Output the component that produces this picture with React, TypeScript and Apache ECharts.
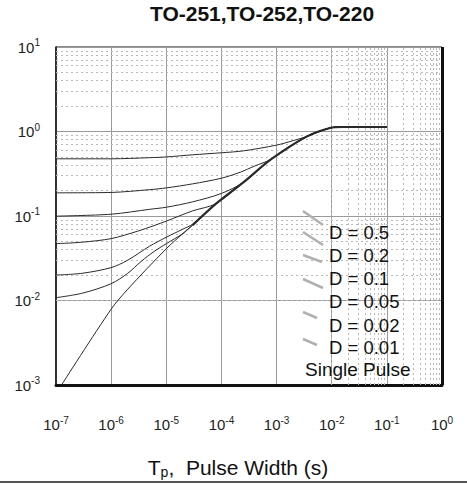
import React, { useEffect, useRef } from "react";
import * as echarts from "echarts";

// Axis ranges (log scale)
const xRange = [1e-7, 1];
const yRange = [1e-3, 10];

// Curves: [pulse width (s), normalized transient thermal impedance]
const singlePulse = [
  [1.26e-7, 0.001], [1e-6, 0.0079], [2e-6, 0.0136], [1e-5, 0.041], [2e-5, 0.062],
  [3e-5, 0.078], [8e-5, 0.14], [2.5e-4, 0.25], [8e-4, 0.47], [3.5e-3, 0.87],
  [9.3e-3, 1.1], [1.6e-2, 1.13], [1e-1, 1.13],
];
const d05 = [
  [1e-7, 0.475], [1e-6, 0.475], [5e-6, 0.49], [1e-5, 0.5], [3e-5, 0.53], [1e-4, 0.56],
  [2.5e-4, 0.59], [1e-3, 0.69], [2e-3, 0.78], [3.5e-3, 0.87], [9.3e-3, 1.1],
  [1.6e-2, 1.13], [1e-1, 1.13],
];
const d02 = [
  [1e-7, 0.188], [1e-6, 0.19], [5e-6, 0.205], [1e-5, 0.215], [3e-5, 0.24], [1e-4, 0.28],
  [2.2e-4, 0.33], [4e-4, 0.39], [8e-4, 0.47], [3.5e-3, 0.87], [9.3e-3, 1.1],
  [1.6e-2, 1.13], [1e-1, 1.13],
];
const d01 = [
  [1e-7, 0.0996], [1e-6, 0.105], [5e-6, 0.12], [1e-5, 0.127], [3e-5, 0.147], [1e-4, 0.185],
  [2.5e-4, 0.25], [8e-4, 0.47], [3.5e-3, 0.87], [9.3e-3, 1.1], [1.6e-2, 1.13], [1e-1, 1.13],
];
const d005 = [
  [1e-7, 0.047], [3e-7, 0.049], [1e-6, 0.054], [3e-6, 0.066], [6e-6, 0.077], [1e-5, 0.087],
  [3e-5, 0.115], [8e-5, 0.14], [2.5e-4, 0.25], [8e-4, 0.47], [3.5e-3, 0.87], [9.3e-3, 1.1],
  [1.6e-2, 1.13], [1e-1, 1.13],
];
const d002 = [
  [1e-7, 0.02], [3e-7, 0.021], [1e-6, 0.0245], [2e-6, 0.03], [5e-6, 0.044], [1e-5, 0.056],
  [2e-5, 0.07], [3e-5, 0.08], [8e-5, 0.14], [2.5e-4, 0.25], [8e-4, 0.47], [3.5e-3, 0.87],
  [9.3e-3, 1.1], [1.6e-2, 1.13], [1e-1, 1.13],
];
const d001 = [
  [1e-7, 0.0108], [3e-7, 0.0122], [1e-6, 0.0158], [2e-6, 0.021], [3.5e-6, 0.029],
  [6e-6, 0.038], [1e-5, 0.047], [2e-5, 0.062], [3e-5, 0.078], [8e-5, 0.14], [2.5e-4, 0.25],
  [8e-4, 0.47], [3.5e-3, 0.87], [9.3e-3, 1.1], [1.6e-2, 1.13], [1e-1, 1.13],
];

const legendLabels = ["D = 0.5", "D = 0.2", "D = 0.1", "D = 0.05", "D = 0.02", "D = 0.01"];
const singleLabel = "Single Pulse";
const titleText = "TO-251,TO-252,TO-220";

// minor grid positions (2..9 within each decade)
const minorMultipliers = [2, 3, 4, 5, 6, 7, 8, 9];
const xDecades = [-7, -6, -5, -4, -3, -2, -1];
const yDecades = [-3, -2, -1, 0];

const FONT = "'Liberation Sans', Arial, sans-serif";

function powLabel(v: number) {
  const e = Math.round(Math.log10(v));
  return `{b|10}{s|${e}}`;
}

const labelRich = {
  b: { fontSize: 15, fontFamily: FONT, color: "#222", lineHeight: 19 },
  s: { fontSize: 10, fontFamily: FONT, color: "#222", lineHeight: 14, verticalAlign: "top" },
};

export default function App() {
  const ref = useRef<HTMLDivElement>(null);

  useEffect(() => {
    if (!ref.current) return;
    const chart = echarts.init(ref.current, undefined, { renderer: "svg" });

    const xMinor: any[] = [];
    xDecades.forEach((d) =>
      minorMultipliers.forEach((m) => xMinor.push({ xAxis: m * Math.pow(10, d) }))
    );
    const yMinor: any[] = [];
    yDecades.forEach((d) =>
      minorMultipliers.forEach((m) => yMinor.push({ yAxis: m * Math.pow(10, d) }))
    );

    const curveStyle = { color: "#2a2a2a", width: 1 };
    const mkCurve = (name: string, data: number[][], width = 1) => ({
      name,
      type: "line",
      data,
      smooth: 0.3,
      showSymbol: false,
      symbol: "none",
      lineStyle: { ...curveStyle, width },
      itemStyle: { color: "#2a2a2a" },
      z: 5,
    });

    const dashes = [
      [303, 211, 323, 225],
      [303, 232, 323, 245],
      [303, 255, 322, 262],
      [303, 279, 323, 288],
      [303, 312, 317, 318],
      [303, 339, 317, 345],
    ];
    const textYs = [232, 255, 278, 301.5, 325, 347];

    const graphic: any[] = [];
    dashes.forEach((d) =>
      graphic.push({
        type: "line",
        shape: { x1: d[0], y1: d[1], x2: d[2], y2: d[3] },
        style: { stroke: "#b0b0b0", lineWidth: 2.5 },
        z: 20,
      })
    );
    legendLabels.forEach((t, i) =>
      graphic.push({
        type: "text",
        x: 329,
        y: textYs[i],
        style: {
          text: t,
          font: `18.5px ${FONT}`,
          fill: "#111",
          textVerticalAlign: "middle",
          verticalAlign: "middle",
        },
        z: 20,
      })
    );
    graphic.push({
      type: "text",
      x: 305,
      y: 369,
      style: {
        text: singleLabel,
        font: `19px ${FONT}`,
        fill: "#111",
        textVerticalAlign: "middle",
        verticalAlign: "middle",
      },
      z: 20,
    });
    graphic.push({
      type: "rect",
      shape: { x: 0, y: 481, width: 467, height: 2 },
      style: { fill: "#555" },
      z: 20,
    });

    chart.setOption({
      animation: false,
      backgroundColor: "#fff",
      title: {
        text: titleText,
        left: 262,
        top: 3,
        textAlign: "center",
        padding: 0,
        textStyle: { fontFamily: FONT, fontWeight: "bold", fontSize: 21, color: "#111" },
      },
      grid: {
        left: 56,
        right: 25,
        top: 47,
        bottom: 98,
        show: true,
        borderColor: "#111",
        borderWidth: 1,
        backgroundColor: "transparent",
      },
      xAxis: {
        type: "log",
        logBase: 10,
        min: xRange[0],
        max: xRange[1],
        axisLine: { show: true, lineStyle: { color: "#111", width: 3 } },
        axisTick: { show: false },
        splitLine: { show: true, lineStyle: { color: "#9a9a9a", width: 1 } },
        axisLabel: {
          margin: 30,
          formatter: powLabel,
          rich: labelRich,
        },
        name: "{a|T}{p|p}{a|,  Pulse Width (s)}",
        nameLocation: "middle",
        nameGap: 70,
        nameTextStyle: {
          padding: [0, 22, 0, 0],
          rich: {
            a: { fontSize: 21, fontFamily: FONT, color: "#111", lineHeight: 24 },
            p: { fontSize: 14, fontFamily: FONT, color: "#111", lineHeight: 16, verticalAlign: "bottom" },
          },
        },
      },
      yAxis: {
        type: "log",
        logBase: 10,
        min: yRange[0],
        max: yRange[1],
        axisLine: { show: true, lineStyle: { color: "#111", width: 1.5 } },
        axisTick: { show: false },
        splitLine: { show: true, lineStyle: { color: "#9a9a9a", width: 1 } },
        axisLabel: {
          margin: 16,
          formatter: powLabel,
          rich: labelRich,
        },
      },
      series: [
        {
          name: "grid-minor",
          type: "line",
          data: [[xRange[0], yRange[0]]],
          showSymbol: false,
          symbol: "none",
          lineStyle: { width: 0 },
          silent: true,
          z: 1,
          markLine: {
            silent: true,
            symbol: "none",
            animation: false,
            label: { show: false },
            lineStyle: { color: "#b8b8b8", type: [2, 3], width: 1 },
            data: [...xMinor, ...yMinor],
          },
        },
        {
          name: "frame-right",
          type: "line",
          data: [[xRange[1], yRange[1]]],
          showSymbol: false,
          symbol: "none",
          lineStyle: { width: 0 },
          silent: true,
          z: 6,
          markLine: {
            silent: true,
            symbol: "none",
            animation: false,
            label: { show: false },
            lineStyle: { color: "#111", type: "solid", width: 3 },
            data: [{ xAxis: xRange[1] }],
          },
        },
        mkCurve("D = 0.5", d05),
        mkCurve("D = 0.2", d02),
        mkCurve("D = 0.1", d01),
        mkCurve("D = 0.05", d005),
        mkCurve("D = 0.02", d002),
        mkCurve("D = 0.01", d001),
        mkCurve("Single Pulse", singlePulse),
        mkCurve("Single Pulse (overlap)", singlePulse.filter((p) => p[0] >= 3e-5), 2.2),
      ],
      graphic,
    });

    return () => chart.dispose();
  }, []);

  return (
    <div
      ref={ref}
      style={{ position: "fixed", left: 0, top: 0, width: 467, height: 484, background: "#fff" }}
    />
  );
}
